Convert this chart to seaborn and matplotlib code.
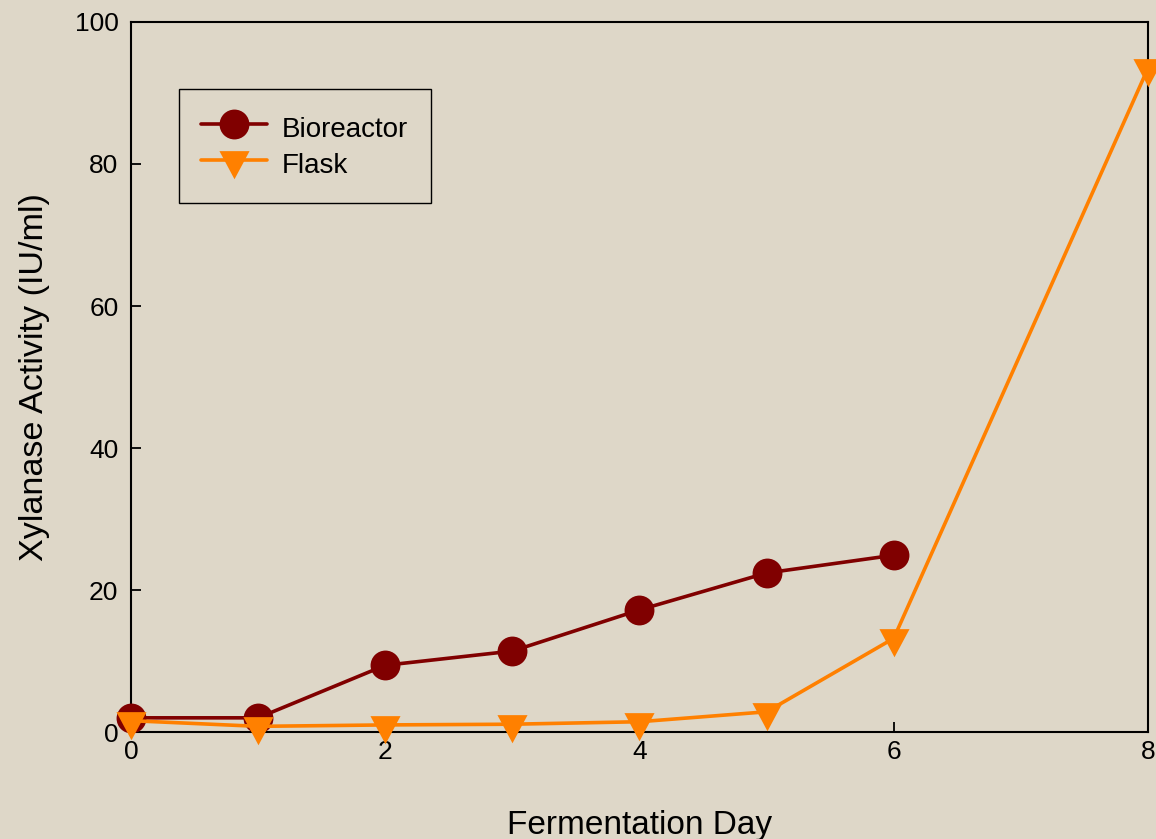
import numpy as np
import pandas as pd
import matplotlib
matplotlib.use("Agg")
import matplotlib.pyplot as plt
import seaborn as sns

BG = "#ded7c8"

bio_days = [0, 1, 2, 3, 4, 5, 6]
bio_activity = [2.0, 2.0, 9.4, 11.4, 17.2, 22.4, 24.9]

flask_days = [0, 1, 2, 3, 4, 5, 6, 8]
flask_activity = [1.6, 0.8, 1.0, 1.1, 1.45, 2.85, 13.2, 93.5]

x_ticks = [0, 2, 4, 6, 8]
y_ticks = [0, 20, 40, 60, 80, 100]

# triangle pointing down, centred on its centroid (like SigmaPlot)
tri_down = [(-0.535, 0.333), (0.535, 0.333), (0.0, -0.667), (-0.535, 0.333)]

sns.set_theme(style="ticks")
plt.rcParams["font.family"] = ["Liberation Sans", "DejaVu Sans"]
plt.rcParams["text.color"] = "black"

fig = plt.figure(figsize=(11.56, 8.39), dpi=100, facecolor=BG)
ax = fig.add_axes([0.1133, 0.1275, 0.8798, 0.8463])
ax.set_facecolor(BG)

bio = pd.DataFrame({"day": bio_days, "activity": bio_activity})
flask = pd.DataFrame({"day": flask_days, "activity": flask_activity})

sns.lineplot(data=bio, x="day", y="activity", ax=ax, color="#800000",
             lw=2.6, marker="o", ms=21.5, mec="#800000", mew=0,
             label="Bioreactor", clip_on=False, zorder=3)
sns.lineplot(data=flask, x="day", y="activity", ax=ax, color="#ff8000",
             lw=2.6, marker=tri_down, ms=27, mec="#ff8000", mew=0,
             label="Flask", clip_on=False, zorder=4)

ax.set_xlim(0, 8)
ax.set_ylim(0, 100)
ax.set_xticks(x_ticks)
ax.set_yticks(y_ticks)
ax.tick_params(direction="in", length=7.5, width=1.3, color="black",
               labelsize=19, labelcolor="black")
ax.tick_params(axis="y", pad=9)
ax.tick_params(axis="x", pad=6)
for s in ax.spines.values():
    s.set_visible(True)
    s.set_color("black")
    s.set_linewidth(1.5)

ax.set_xlabel("Fermentation Day", fontsize=24, color="black", labelpad=33)
ax.set_ylabel("Xylanase Activity (IU/ml)", fontsize=24.6, color="black", labelpad=17.5)

leg = ax.legend(loc="upper left", bbox_to_anchor=(0.0472, 0.9056),
                borderaxespad=0, fontsize=20, frameon=True, fancybox=False,
                handlelength=2.37, handletextpad=0.54, labelspacing=0.12,
                handleheight=1.45, borderpad=0.8)
leg.get_frame().set_edgecolor("black")
leg.get_frame().set_linewidth(1.0)
leg.get_frame().set_facecolor(BG)
leg.get_frame().set_alpha(1)
for t in leg.get_texts():
    t.set_color("black")

fig.savefig("out.png", dpi=100, facecolor=BG)
